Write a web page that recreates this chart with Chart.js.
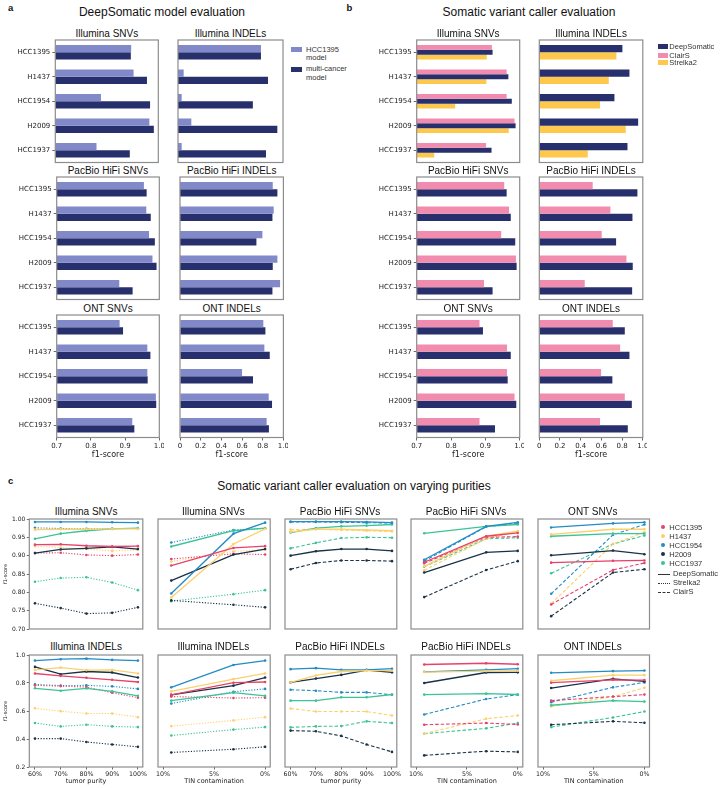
<!DOCTYPE html>
<html>
<head>
<meta charset="utf-8">
<script src="https://cdn.jsdelivr.net/npm/chart.js@4.4.1/dist/chart.umd.min.js"></script>
<style>
  body { margin: 0; background: #fff; width: 720px; height: 788px; position: relative; overflow: hidden;
         font-family: "Liberation Sans", Arial, sans-serif; color: #111; }
  canvas { position: absolute; }
</style>
</head>
<body>
<script>
// ---- data ----
const samples = ['HCC1395', 'H1437', 'HCC1954', 'H2009', 'HCC1937'];

// a: DeepSomatic model evaluation (HCC1395 model vs multi-cancer model)
const aIlluminaSnvHcc    = [0.921, 0.928, 0.833, 0.974, 0.820];
const aIlluminaSnvMulti  = [0.920, 0.967, 0.976, 0.987, 0.917];
const aIlluminaIndelHcc  = [0.790, 0.054, 0.035, 0.127, 0.035];
const aIlluminaIndelMulti= [0.790, 0.857, 0.713, 0.946, 0.838];
const aPacbioSnvHcc      = [0.955, 0.962, 0.970, 0.980, 0.883];
const aPacbioSnvMulti    = [0.963, 0.975, 0.987, 0.992, 0.922];
const aPacbioIndelHcc    = [0.897, 0.906, 0.797, 0.942, 0.968];
const aPacbioIndelMulti  = [0.942, 0.894, 0.739, 0.897, 0.894];
const aOntSnvHcc         = [0.884, 0.965, 0.965, 0.990, 0.921];
const aOntSnvMulti       = [0.894, 0.974, 0.966, 0.991, 0.927];
const aOntIndelHcc       = [0.806, 0.816, 0.600, 0.858, 0.838];
const aOntIndelMulti     = [0.826, 0.868, 0.706, 0.890, 0.860];

// b: somatic variant caller evaluation
const bIlluminaSnvClair    = [0.919, 0.962, 0.962, 0.985, 0.902];
const bIlluminaSnvDeep     = [0.921, 0.967, 0.977, 0.988, 0.918];
const bIlluminaSnvStrelka  = [0.904, 0.903, 0.812, 0.968, 0.751];
const bIlluminaIndelDeep   = [0.803, 0.871, 0.726, 0.955, 0.852];
const bIlluminaIndelStrelka= [0.745, 0.671, 0.587, 0.835, 0.468];
const bPacbioSnvClair      = [0.955, 0.969, 0.946, 0.989, 0.896];
const bPacbioSnvDeep       = [0.962, 0.974, 0.987, 0.991, 0.921];
const bPacbioIndelClair    = [0.516, 0.687, 0.603, 0.842, 0.439];
const bPacbioIndelDeep     = [0.948, 0.900, 0.742, 0.903, 0.897];
const bOntSnvClair         = [0.883, 0.963, 0.963, 0.985, 0.883];
const bOntSnvDeep          = [0.893, 0.974, 0.965, 0.990, 0.928];
const bOntIndelClair       = [0.710, 0.781, 0.597, 0.826, 0.587];
const bOntIndelDeep        = [0.826, 0.871, 0.706, 0.894, 0.855];

const snvTicks = [0.7, 0.8, 0.9, 1.0];
const indelTicks = [0, 0.2, 0.4, 0.6, 0.8, 1.0];

// c: varying purities, rows in sample order (null = not run)
const purityLevels = [60, 70, 80, 90, 100];
const tinLevels = [9.2, 3.1, 0];
const purityTicks = [60, 70, 80, 90, 100];
const tinTicks = [10, 5, 0];
const snvTicksC = [0.70, 0.75, 0.80, 0.85, 0.90, 0.95, 1.00];
const indelTicksC = [0.2, 0.4, 0.6, 0.8, 1.0];

const cIllSnvPurityDeep = [
  [0.930, 0.931, 0.927, 0.925, 0.926], [0.971, 0.972, 0.972, 0.973, 0.973],
  [0.992, 0.992, 0.992, 0.991, 0.990], [0.907, 0.917, 0.920, 0.924, 0.918],
  [0.946, 0.960, 0.968, 0.973, 0.975]];
const cIllSnvPurityStrelka = [
  [0.907, 0.908, 0.902, 0.900, 0.903], [0.926, 0.922, 0.918, 0.913, 0.916],
  [0.976, 0.974, 0.973, 0.974, 0.974], [0.770, 0.757, 0.742, 0.744, 0.759],
  [0.829, 0.839, 0.841, 0.827, 0.806]];
const cIllSnvTinDeep = [
  [0.873, 0.921, 0.926], [0.786, 0.932, 0.973], [0.797, 0.960, 0.990],
  [0.832, 0.903, 0.918], [0.925, 0.968, 0.975]];
const cIllSnvTinStrelka = [
  [0.891, 0.905, 0.903], [0.884, 0.912, 0.916], [0.936, 0.970, 0.974],
  [0.778, 0.766, 0.759], [0.776, 0.795, 0.806]];
const cPbSnvPurityDeep = [
  null, [0.965, 0.972, 0.972, 0.970, 0.968],
  [0.993, 0.993, 0.993, 0.992, 0.990], [0.900, 0.912, 0.918, 0.918, 0.913],
  [0.963, 0.975, 0.980, 0.982, 0.985]];
const cPbSnvPurityClair = [
  null, [0.971, 0.972, 0.970, 0.968, 0.966],
  [0.992, 0.992, 0.991, 0.990, 0.989], [0.863, 0.880, 0.887, 0.887, 0.885],
  [0.920, 0.935, 0.948, 0.950, 0.949]];
const cPbSnvTinDeep = [
  [0.882, 0.953, 0.962], [0.871, 0.953, 0.967], [0.889, 0.980, 0.991],
  [0.854, 0.909, 0.913], [0.961, 0.980, 0.985]];
const cPbSnvTinClair = [
  [0.879, 0.950, 0.952], [0.860, 0.946, 0.966], [0.885, 0.979, 0.989],
  [0.787, 0.861, 0.885], [0.870, 0.946, 0.949]];
const cOntSnvTinDeep = [
  [0.881, 0.886, 0.887], [0.958, 0.972, 0.972], [0.977, 0.988, 0.991],
  [0.901, 0.914, 0.904], [0.953, 0.960, 0.960]];
const cOntSnvTinClair = [
  [0.767, 0.861, 0.880], [0.769, 0.932, 0.964], [0.796, 0.957, 0.985],
  [0.735, 0.854, 0.863], [0.852, 0.932, 0.955]];

const cIllIndelPurityDeep = [
  [0.868, 0.851, 0.837, 0.823, 0.807], [0.894, 0.910, 0.892, 0.894, 0.868],
  [0.960, 0.970, 0.974, 0.965, 0.960], [0.915, 0.863, 0.882, 0.875, 0.839],
  [0.762, 0.745, 0.762, 0.740, 0.708]];
const cIllIndelPurityStrelka = [
  [0.783, 0.778, 0.771, 0.731, 0.695], [0.620, 0.599, 0.582, 0.582, 0.556],
  [0.790, 0.781, 0.783, 0.776, 0.758], [0.403, 0.403, 0.379, 0.361, 0.344],
  [0.514, 0.490, 0.502, 0.490, 0.485]];
const cIllIndelTinDeep = [
  [0.715, 0.802, 0.807], [0.740, 0.828, 0.868], [0.769, 0.929, 0.960],
  [0.715, 0.781, 0.839], [0.674, 0.731, 0.708]];
const cIllIndelTinStrelka = [
  [0.703, 0.693, 0.695], [0.492, 0.533, 0.556], [0.653, 0.738, 0.758],
  [0.304, 0.327, 0.344], [0.425, 0.467, 0.485]];
const cPbIndelPurityDeep = [
  null, [0.804, 0.854, 0.882, 0.889, 0.888],
  [0.899, 0.906, 0.894, 0.894, 0.902], [0.804, 0.832, 0.858, 0.892, 0.876],
  [0.674, 0.674, 0.698, 0.698, 0.718]];
const cPbIndelPurityClair = [
  null, [0.618, 0.596, 0.596, 0.596, 0.568],
  [0.752, 0.745, 0.733, 0.733, 0.716], [0.460, 0.455, 0.422, 0.361, 0.308],
  [0.483, 0.490, 0.492, 0.526, 0.514]];
const cPbIndelTinDeep = [
  [0.932, 0.941, 0.934], [0.878, 0.885, 0.888], [0.880, 0.894, 0.902],
  [0.800, 0.875, 0.876], [0.717, 0.724, 0.718]];
const cPbIndelTinClair = [
  [0.502, 0.514, 0.504], [0.438, 0.545, 0.568], [0.575, 0.686, 0.716],
  [0.283, 0.313, 0.308], [0.438, 0.476, 0.514]];
const cOntIndelTinDeep = [
  [0.802, 0.823, 0.821], [0.816, 0.856, 0.856], [0.873, 0.885, 0.889],
  [0.764, 0.830, 0.811], [0.641, 0.674, 0.667]];
const cOntIndelTinClair = [
  [0.674, 0.703, 0.717], [0.632, 0.703, 0.766], [0.663, 0.769, 0.804],
  [0.502, 0.526, 0.516], [0.485, 0.554, 0.596]];

// ---- styles ----
const lightBlue = '#8189c9', navy = '#27306c', pink = '#f28cae', gold = '#fdc84b';
const sampleColors = ['#e8426a', '#fcd06c', '#238cc3', '#183248', '#3cc396'];
const dotted = [1.2, 1.6], dashed = [3.5, 2];

Chart.defaults.animation = false;
Chart.defaults.font.family = '"DejaVu Sans", sans-serif';
Chart.defaults.font.size = 7;
Chart.defaults.color = '#222';
Chart.defaults.plugins.legend.display = false;
Chart.defaults.plugins.tooltip.enabled = false;

const frame = {
  id: 'frame',
  afterDatasetsDraw(chart) {
    const a = chart.chartArea, c = chart.ctx;
    c.save();
    c.strokeStyle = '#8c8c8c';
    c.lineWidth = 1.2;
    c.strokeRect(a.left, a.top, a.right - a.left, a.bottom - a.top);
    c.restore();
  }
};

function label(str, x, y, size, opt = {}) {
  const d = document.createElement('div');
  d.textContent = str;
  let css = `position:absolute;white-space:nowrap;font-size:${size}px;line-height:${size}px;top:${y - 0.846 * size}px;`;
  if (opt.center) css += `left:${x - 200}px;width:400px;text-align:center;`;
  else css += `left:${x}px;`;
  if (opt.bold) css += 'font-weight:bold;';
  if (opt.color) css += `color:${opt.color};`;
  d.style.cssText = css;
  document.body.appendChild(d);
}

function swatch(x, y, w, h, color, round) {
  const d = document.createElement('div');
  d.style.cssText = `position:absolute;left:${x}px;top:${y}px;width:${w}px;height:${h}px;background:${color};` +
    (round ? 'border-radius:50%;' : '');
  document.body.appendChild(d);
}

function lineKey(x, y, w, dash) {
  const d = document.createElement('div');
  d.style.cssText = `position:absolute;left:${x}px;top:${y}px;width:${w}px;height:0;border-top:1.3px ${dash} #333;`;
  document.body.appendChild(d);
}

// places a canvas so that the plot area lands exactly on box
function mount(box, yW, xH) {
  const left = Math.floor(box.x - yW - 2);
  const top = Math.floor(box.y - 3);
  const right = Math.ceil(box.x + box.w + 4);
  const bottom = Math.ceil(box.y + box.h + xH + (xH ? 0 : 2));
  const cv = document.createElement('canvas');
  cv.width = right - left; cv.height = bottom - top;
  cv.style.left = left + 'px'; cv.style.top = top + 'px';
  cv.style.width = cv.width + 'px'; cv.style.height = cv.height + 'px';
  document.body.appendChild(cv);
  const padding = {
    left: box.x - yW - left,
    top: box.y - top,
    right: right - box.x - box.w,
    bottom: bottom - (box.y + box.h + xH)
  };
  return { cv, padding };
}

function zeroPad(s) { s.paddingLeft = 0; s.paddingRight = 0; s.paddingTop = 0; s.paddingBottom = 0; }

function tickGrid(show) {
  return { display: show, drawOnChartArea: false, drawTicks: true, tickLength: 3, color: '#444', lineWidth: 0.8, offset: false };
}

function barChart(box, series, min, xTicks, showY, showX) {
  const yW = showY ? 55 : 0, xH = showX ? 22 : 0;
  const { cv, padding } = mount(box, yW, xH);
  new Chart(cv, {
    type: 'bar',
    data: {
      labels: samples,
      datasets: series.map(s => ({ data: s.data, backgroundColor: s.color, base: min,
        categoryPercentage: 0.6, barPercentage: 1.0, borderWidth: 0 }))
    },
    options: {
      responsive: false, indexAxis: 'y', layout: { padding },
      scales: {
        x: {
          type: 'linear', min: min, max: 1.0,
          afterBuildTicks: s => { s.ticks = xTicks.map(v => ({ value: v })); },
          ticks: { display: showX, padding: 1, autoSkip: false, maxRotation: 0,
                   callback: v => (v === 0 ? '0' : v.toFixed(1)) },
          grid: tickGrid(showX), border: { display: false },
          title: { display: showX, text: 'f1-score', font: { size: 8 }, padding: 0 },
          afterFit: s => { s.height = xH; zeroPad(s); }
        },
        y: {
          ticks: { display: showY, padding: 2 },
          grid: tickGrid(showY), border: { display: false },
          afterFit: s => { s.width = yW; zeroPad(s); }
        }
      }
    },
    plugins: [frame]
  });
}

function lineChart(box, kind, deep, other, dash, isSnv, showY, showX) {
  const yW = showY ? 27 : 0, xH = showX ? 21 : 0;
  const { cv, padding } = mount(box, yW, xH);
  const xs = kind === 'purity' ? purityLevels : tinLevels;
  const datasets = [];
  [[deep, []], [other, dash]].forEach(([rows, d]) => {
    rows.forEach((vals, i) => {
      if (!vals) return;
      datasets.push({
        data: xs.map((x, j) => ({ x: x, y: vals[j] })),
        borderColor: sampleColors[i], backgroundColor: sampleColors[i],
        borderWidth: d.length ? 1.1 : 1.3, borderDash: d, tension: 0,
        pointRadius: 1.3, pointBorderWidth: 0, pointBackgroundColor: sampleColors[i]
      });
    });
  });
  const yTicks = isSnv ? snvTicksC : indelTicksC;
  new Chart(cv, {
    type: 'line',
    data: { datasets },
    options: {
      responsive: false, layout: { padding },
      scales: {
        x: {
          type: 'linear', reverse: kind === 'tin',
          min: kind === 'purity' ? 57.8 : -0.5, max: kind === 'purity' ? 101.9 : 10.5,
          afterBuildTicks: s => { s.ticks = (kind === 'purity' ? purityTicks : tinTicks).map(v => ({ value: v })); },
          ticks: { display: showX, padding: 1, autoSkip: false, maxRotation: 0, font: { size: 6.3 },
                   callback: v => v + '%' },
          grid: Object.assign(tickGrid(showX), { tickLength: 2.5 }), border: { display: false },
          title: { display: showX, text: kind === 'purity' ? 'tumor purity' : 'TIN contamination',
                   font: { size: 6.5 }, padding: { top: 0, bottom: 2.5 } },
          afterFit: s => { s.height = xH; zeroPad(s); }
        },
        y: {
          min: isSnv ? 0.7 : 0.2, max: 1.0,
          afterBuildTicks: s => { s.ticks = yTicks.map(v => ({ value: v })); },
          ticks: { display: showY, padding: 1.5, autoSkip: false, font: { size: 6 },
                   callback: v => v.toFixed(isSnv ? 2 : 1) },
          grid: Object.assign(tickGrid(showY), { tickLength: 2.5 }), border: { display: false },
          title: { display: showY, text: 'f1-score', font: { size: 5 }, padding: 0 },
          afterFit: s => { s.width = yW; zeroPad(s); }
        }
      }
    },
    plugins: [frame]
  });
}

// ---- panel a ----
label('a', 8, 11, 9.5, { bold: true });
label('DeepSomatic model evaluation', 162, 16, 12, { center: true });
const aRows = [
  { y: 40, snv: { x: 55.3, w: 103 }, indel: { x: 178, w: 105 }, name: 'Illumina',
    snvs: [aIlluminaSnvHcc, aIlluminaSnvMulti], indels: [aIlluminaIndelHcc, aIlluminaIndelMulti] },
  { y: 177, snv: { x: 56.7, w: 102.6 }, indel: { x: 180, w: 103.4 }, name: 'PacBio HiFi',
    snvs: [aPacbioSnvHcc, aPacbioSnvMulti], indels: [aPacbioIndelHcc, aPacbioIndelMulti] },
  { y: 315, snv: { x: 56.7, w: 102.6 }, indel: { x: 180, w: 103.4 }, name: 'ONT',
    snvs: [aOntSnvHcc, aOntSnvMulti], indels: [aOntIndelHcc, aOntIndelMulti] }
];
aRows.forEach((r, k) => {
  const last = k === aRows.length - 1;
  const sb = { x: r.snv.x, y: r.y, w: r.snv.w, h: 122.5 };
  const ib = { x: r.indel.x, y: r.y, w: r.indel.w, h: 122.5 };
  label(r.name + ' SNVs', sb.x + sb.w / 2, r.y - 2.5, 10, { center: true });
  label(r.name + ' INDELs', ib.x + ib.w / 2, r.y - 2.5, 10, { center: true });
  barChart(sb, [{ data: r.snvs[0], color: lightBlue }, { data: r.snvs[1], color: navy }], 0.7, snvTicks, true, last);
  barChart(ib, [{ data: r.indels[0], color: lightBlue }, { data: r.indels[1], color: navy }], 0, indelTicks, false, last);
});
swatch(291, 46.7, 11, 5.6, lightBlue);
swatch(291, 66.7, 11, 5.6, navy);
label('HCC1395', 306, 52.4, 7.5, { color: '#333' });
label('model', 306, 60.6, 7.5, { color: '#333' });
label('multi-cancer', 306, 71.8, 7.5, { color: '#333' });
label('model', 306, 80, 7.5, { color: '#333' });

// ---- panel b ----
label('b', 346.5, 11, 9.5, { bold: true });
label('Somatic variant caller evaluation', 529, 16, 12, { center: true });
const bRows = [
  { y: 40, name: 'Illumina',
    snvs: [{ data: bIlluminaSnvClair, color: pink }, { data: bIlluminaSnvDeep, color: navy }, { data: bIlluminaSnvStrelka, color: gold }],
    indels: [{ data: bIlluminaIndelDeep, color: navy }, { data: bIlluminaIndelStrelka, color: gold }] },
  { y: 177, name: 'PacBio HiFi',
    snvs: [{ data: bPacbioSnvClair, color: pink }, { data: bPacbioSnvDeep, color: navy }],
    indels: [{ data: bPacbioIndelClair, color: pink }, { data: bPacbioIndelDeep, color: navy }] },
  { y: 315, name: 'ONT',
    snvs: [{ data: bOntSnvClair, color: pink }, { data: bOntSnvDeep, color: navy }],
    indels: [{ data: bOntIndelClair, color: pink }, { data: bOntIndelDeep, color: navy }] }
];
bRows.forEach((r, k) => {
  const last = k === bRows.length - 1;
  const sb = { x: 416.7, y: r.y, w: 103, h: 122.5 };
  const ib = { x: 539.3, y: r.y, w: 103.5, h: 122.5 };
  label(r.name + ' SNVs', sb.x + sb.w / 2, r.y - 2.5, 10, { center: true });
  label(r.name + ' INDELs', ib.x + ib.w / 2, r.y - 2.5, 10, { center: true });
  barChart(sb, r.snvs, 0.7, snvTicks, true, last);
  barChart(ib, r.indels, 0, indelTicks, false, last);
});
[['DeepSomatic', navy, 44.3], ['ClairS', pink, 52.5], ['Strelka2', gold, 60]].forEach(([t, c, y]) => {
  swatch(657.7, y, 10.3, 5, c);
  label(t, 669.3, y + 5.4, 7.5, { color: '#333' });
});

// ---- panel c ----
label('c', 8, 484.5, 9.5, { bold: true });
label('Somatic variant caller evaluation on varying purities', 354, 490, 12, { center: true });
const cCols = [29.3, 156.7, 283.3, 409.3, 536];
const cRows = [
  { y: 518.5, h: 112.5, snv: true, plots: [
    ['Illumina SNVs', 'purity', cIllSnvPurityDeep, cIllSnvPurityStrelka, dotted],
    ['Illumina SNVs', 'tin', cIllSnvTinDeep, cIllSnvTinStrelka, dotted],
    ['PacBio HiFi SNVs', 'purity', cPbSnvPurityDeep, cPbSnvPurityClair, dashed],
    ['PacBio HiFi SNVs', 'tin', cPbSnvTinDeep, cPbSnvTinClair, dashed],
    ['ONT SNVs', 'tin', cOntSnvTinDeep, cOntSnvTinClair, dashed]] },
  { y: 654, h: 113, snv: false, plots: [
    ['Illumina INDELs', 'purity', cIllIndelPurityDeep, cIllIndelPurityStrelka, dotted],
    ['Illumina INDELs', 'tin', cIllIndelTinDeep, cIllIndelTinStrelka, dotted],
    ['PacBio HiFi INDELs', 'purity', cPbIndelPurityDeep, cPbIndelPurityClair, dashed],
    ['PacBio HiFi INDELs', 'tin', cPbIndelTinDeep, cPbIndelTinClair, dashed],
    ['ONT INDELs', 'tin', cOntIndelTinDeep, cOntIndelTinClair, dashed]] }
];
cRows.forEach((r, k) => {
  r.plots.forEach((p, j) => {
    const box = { x: cCols[j], y: r.y, w: 113.5, h: r.h };
    label(p[0], box.x + box.w / 2, r.y - 3.5, 10, { center: true });
    lineChart(box, p[1], p[2], p[3], p[4], r.snv, j === 0, k === 1);
  });
});
samples.forEach((s, i) => {
  const y = 527.3 + i * 9;
  swatch(660.8, y - 2.2, 4.4, 4.4, sampleColors[i], true);
  label(s, 669.3, y + 2.7, 7.5, { color: '#333' });
});
[['DeepSomatic', 'solid', 574], ['Strelka2', 'dotted', 583], ['ClairS', 'dashed', 592]].forEach(([t, d, y]) => {
  lineKey(658, y, 12, d);
  label(t, 673, y + 2.8, 7.5, { color: '#333' });
});
</script>
</body>
</html>
